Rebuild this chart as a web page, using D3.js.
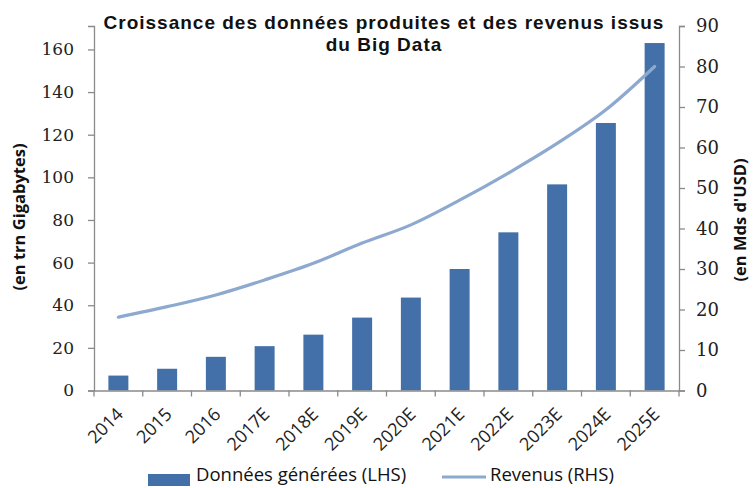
<!DOCTYPE html>
<html><head><meta charset="utf-8">
<script src="https://cdn.jsdelivr.net/npm/d3@7"></script>
<style>body{margin:0;background:#fff}svg{display:block}</style>
</head><body>
<svg id="c" width="755" height="488"></svg>
<script>
const categories = ["2014","2015","2016","2017E","2018E","2019E","2020E","2021E","2022E","2023E","2024E","2025E"];
const donnees = [7, 10.2, 15.8, 20.8, 26.2, 34.2, 43.6, 57, 74.2, 96.7, 125.5, 163];
const revenus = [18.1, 20.7, 23.6, 27.3, 31.4, 36.4, 40.9, 47, 53.7, 61, 69.3, 80];
const leftTicks = [0,20,40,60,80,100,120,140,160];
const rightTicks = [0,10,20,30,40,50,60,70,80,90];
const titleLines = ["Croissance des données produites et des revenus issus","du Big Data"];
const leftLabel = "(en trn Gigabytes)";
const rightLabel = "(en Mds d'USD)";
const legendLabels = ["Données générées (LHS)","Revenus (RHS)"];

const svg = d3.select("#c");
const L = 94, R = 679, T = 26, B = 390.5;
const barColor = "#4370A8", lineColor = "#8EA9CF", axisColor = "#8a8a8a";

const x = d3.scaleBand().domain(categories).range([L, R]).paddingInner(0.59).paddingOuter(0.295);
const yL = d3.scaleLinear().domain([0, 171]).range([B, T]);
const yR = d3.scaleLinear().domain([0, 90]).range([B, T]);

// bars
svg.append("g").selectAll("rect").data(categories).join("rect")
  .attr("x", d => x(d)).attr("width", x.bandwidth())
  .attr("y", (d,i) => yL(donnees[i])).attr("height", (d,i) => B - yL(donnees[i]))
  .attr("fill", barColor);

// line
const line = d3.line().curve(d3.curveMonotoneX)
  .x((d,i) => x(categories[i]) + x.bandwidth()/2).y(d => yR(d));
svg.append("path").datum(revenus).attr("d", line)
  .attr("fill","none").attr("stroke", lineColor).attr("stroke-width", 3.2).attr("stroke-linecap","round");

// left axis
const gl = svg.append("g").attr("transform", `translate(${L},0)`)
  .call(d3.axisLeft(yL).tickValues(leftTicks).tickSize(6).tickPadding(14).tickFormat(d3.format("d")));
// right axis
const gr = svg.append("g").attr("transform", `translate(${R},0)`)
  .call(d3.axisRight(yR).tickValues(rightTicks).tickSize(6).tickPadding(11).tickFormat(d3.format("d")));
[gl, gr].forEach(g => {
  g.select(".domain").attr("stroke", axisColor).attr("stroke-width", 1.3);
  g.selectAll(".tick line").attr("stroke", axisColor).attr("stroke-width", 1.3);
  g.selectAll("text").attr("font-family", "DejaVu Serif").attr("font-size", 17).attr("fill", "#222");
});
gr.selectAll("text").attr("font-size", 18);

// x axis
const gx = svg.append("g").attr("transform", `translate(0,${B})`)
  .call(d3.axisBottom(x).tickSize(0).tickSizeOuter(0));
gx.select(".domain").attr("stroke", axisColor).attr("stroke-width", 1.3);
// boundary ticks
const bounds = categories.map(c => x(c) - x.step()*x.paddingInner()/2).concat([R]);
gx.selectAll(".bt").data(bounds).join("line").attr("class","bt")
  .attr("x1", d => d).attr("x2", d => d).attr("y1", 0).attr("y2", 6)
  .attr("stroke", axisColor).attr("stroke-width", 1.3);
gx.selectAll(".tick text")
  .attr("font-family", "Open Sans").attr("font-size", 18).attr("fill", "#222")
  .attr("text-anchor", "end").attr("dy", null).attr("y", 0)
  .attr("transform", "translate(6,25) rotate(-45)");

// title
svg.append("g").selectAll("text").data(titleLines).join("text")
  .attr("x", 384).attr("y", (d,i) => 29 + i*22)
  .attr("text-anchor", "middle").attr("font-family", "Liberation Sans").attr("font-weight", "bold")
  .attr("font-size", 19).attr("letter-spacing", 1.0).attr("fill", "#111").text(d => d);

// axis titles
svg.append("text").attr("transform", "translate(25,217) rotate(-90)")
  .attr("text-anchor","middle").attr("font-family","Open Sans").attr("font-weight","bold")
  .attr("font-size", 16.5).attr("fill","#111").text(leftLabel);
svg.append("text").attr("transform", "translate(746,220) rotate(-90)")
  .attr("text-anchor","middle").attr("font-family","Open Sans").attr("font-weight","bold")
  .attr("font-size", 16.5).attr("fill","#111").text(rightLabel);

// legend
const lg = svg.append("g");
lg.append("rect").attr("x", 148).attr("y", 474).attr("width", 42).attr("height", 12).attr("fill", barColor);
lg.append("text").attr("x", 196).attr("y", 481).attr("font-family","Open Sans").attr("font-size", 18.5)
  .attr("fill","#111").text(legendLabels[0]);
lg.append("line").attr("x1", 442).attr("x2", 486).attr("y1", 477).attr("y2", 477)
  .attr("stroke", lineColor).attr("stroke-width", 3.2);
lg.append("text").attr("x", 490).attr("y", 481).attr("font-family","Open Sans").attr("font-size", 18.5)
  .attr("fill","#111").text(legendLabels[1]);
</script>
</body></html>
